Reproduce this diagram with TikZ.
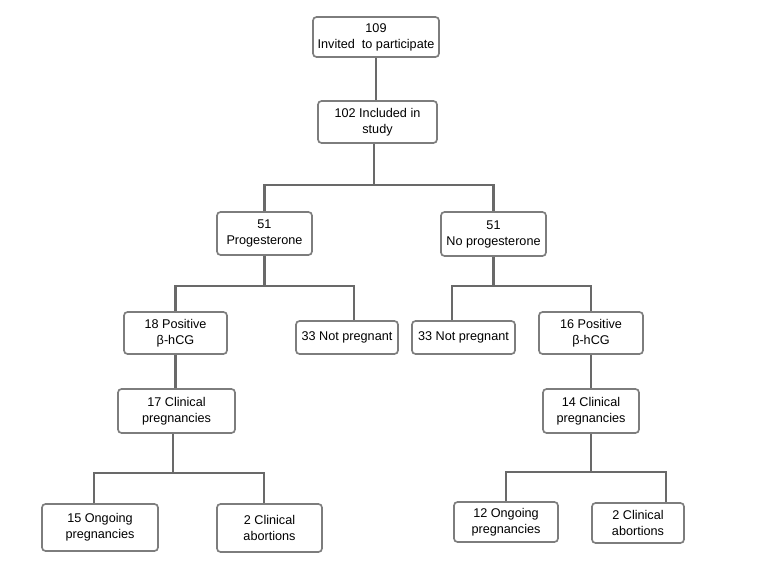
\documentclass[tikz,border=0pt]{standalone}
\usepackage{fontspec}
\setmainfont{Liberation Sans}
\usetikzlibrary{calc}
\definecolor{boxgray}{RGB}{125,125,125}
\definecolor{linegray}{RGB}{105,105,105}

\begin{document}
\begin{tikzpicture}[font=\fontsize{9}{11.4}\selectfont,
    box/.style={draw=boxgray, line width=1.2pt, rounded corners=2.5pt, align=center, inner sep=0pt},
    link/.style={draw=linegray, line width=1.9pt}]
        \useasboundingbox (0,0) rectangle (19.275,14.25);

        % Caixas
        \node[box, minimum width=3.15cm, minimum height=1.0cm] (n109) at (9.4,13.325) {109\\Invited\ \ to participate};
        \node[box, minimum width=2.975cm, minimum height=1.05cm] (n102) at (9.4375,11.2) {102 Included in\\study};
        \node[box, minimum width=2.375cm, minimum height=1.075cm] (prog) at (6.6125,8.4125) {51\\Progesterone};
        \node[box, minimum width=2.625cm, minimum height=1.1cm] (noprog) at (12.3375,8.4) {51\\No progesterone};
        \node[box, minimum width=2.575cm, minimum height=1.05cm] (pos1) at (4.3875,5.925) {18 Positive\\β-hCG};
        \node[box, minimum width=2.55cm, minimum height=0.825cm] (np1) at (8.675,5.8125) {33 Not pregnant};
        \node[box, minimum width=2.575cm, minimum height=0.825cm] (np2) at (11.5875,5.8125) {33 Not pregnant};
        \node[box, minimum width=2.6cm, minimum height=1.05cm] (pos2) at (14.775,5.925) {16 Positive\\β-hCG};
        \node[box, minimum width=2.925cm, minimum height=1.1cm] (clin1) at (4.4125,3.975) {17 Clinical\\pregnancies};
        \node[box, minimum width=2.4cm, minimum height=1.1cm] (clin2) at (14.775,3.975) {14 Clinical\\pregnancies};
        \node[box, minimum width=2.9cm, minimum height=1.175cm] (ong1) at (2.5,1.0625) {15 Ongoing\\pregnancies};
        \node[box, minimum width=2.625cm, minimum height=1.2cm] (abo1) at (6.7375,1.05) {2 Clinical\\abortions};
        \node[box, minimum width=2.6cm, minimum height=1.0cm] (ong2) at (12.65,1.2) {12 Ongoing\\pregnancies};
        \node[box, minimum width=2.3cm, minimum height=1.0cm] (abo2) at (15.95,1.175) {2 Clinical\\abortions};

        % Alturas das barras
        \coordinate (b1) at (0,9.625);
        \coordinate (b2) at (0,7.1);
        \coordinate (b3) at (0,2.425);
        \coordinate (b4) at (0,2.45);

        % Pontos de chegada deslocados
        \coordinate (n102bot) at ($(n102.south)+(-0.09,0)$);
        \coordinate (np1top) at ($(np1.north)+(0.175,0)$);
        \coordinate (np2top) at ($(np2.north)+(-0.29,0)$);
        \coordinate (clin1bot) at ($(clin1.south)+(-0.09,0)$);
        \coordinate (ong1top) at ($(ong1.north)+(-0.15,0)$);
        \coordinate (abo1top) at ($(abo1.north)+(-0.14,0)$);
        \coordinate (abo2top) at ($(abo2.north)+(0.7,0)$);

        % Ligacoes
        \draw[link] (n109.south) -- (n109.south |- n102.north);
        \draw[link] (n102bot) -- (n102bot |- b1);
        \draw[link] (prog.north) |- (b1 -| noprog.north) -- (noprog.north);

        \draw[link] (prog.south) -- (prog.south |- b2);
        \draw[link] (pos1.north) |- (b2 -| np1top) -- (np1top);
        \draw[link] (noprog.south) -- (noprog.south |- b2);
        \draw[link] (np2top) |- (b2 -| pos2.north) -- (pos2.north);

        \draw[link] (pos1.south) -- (pos1.south |- clin1.north);
        \draw[link] (pos2.south) -- (pos2.south |- clin2.north);

        \draw[link] (clin1bot) -- (clin1bot |- b3);
        \draw[link] (ong1top) |- (b3 -| abo1top) -- (abo1top);
        \draw[link] (clin2.south) -- (clin2.south |- b4);
        \draw[link] (ong2.north) |- (b4 -| abo2top) -- (abo2top);
    \end{tikzpicture}
\end{document}
